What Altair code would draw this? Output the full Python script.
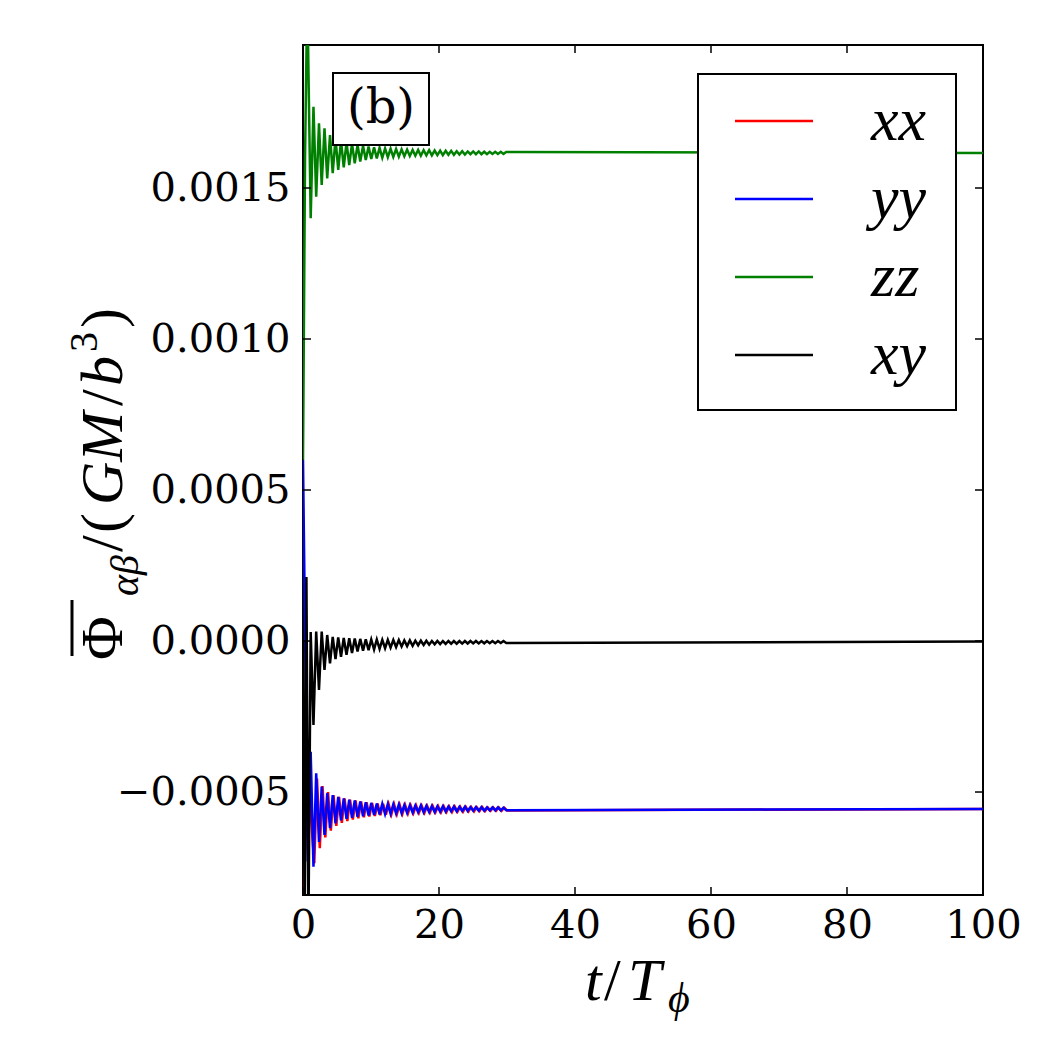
import altair as alt
import pandas as pd

SERIES = ["xx", "yy", "zz", "xy"]
COLORS = ["#ff0000", "#0000ff", "#008000", "#000000"]
X_TICKS = [0, 20, 40, 60, 80, 100]
Y_TICKS = [-0.0005, 0.0, 0.0005, 0.0010, 0.0015]
X_DOMAIN = [0, 100]
Y_DOMAIN = [-0.000841, 0.0019735]

# times of successive extrema (half periods)
T_GRID = [1.13, 1.54, 1.94, 2.35, 2.75, 3.16, 3.56, 3.97, 4.37, 4.78,
          5.18, 5.59, 5.99, 6.40, 6.80, 7.21, 7.61, 8.02, 8.42, 8.83,
          9.23, 9.64, 10.04, 10.45, 10.85, 11.26, 11.66, 12.07, 12.47, 12.88,
          13.28, 13.69, 14.09, 14.50, 14.90, 15.31, 15.71, 16.12, 16.52, 16.93,
          17.33, 17.74, 18.14, 18.55, 18.95, 19.36, 19.76, 20.17, 20.57, 20.98,
          21.38, 21.79, 22.19, 22.60, 23.00, 23.41, 23.81, 24.22, 24.62, 25.03,
          25.43, 25.84, 26.24, 26.65, 27.05, 27.46, 27.86, 28.27, 28.67, 29.08,
          29.48, 29.89]

RED_T = [1.66, 2.06, 2.47, 2.87, 3.28, 3.68, 4.09, 4.49, 4.90, 5.30,
         5.71, 6.11, 6.52, 6.92, 7.33, 7.73, 8.14, 8.54, 8.95, 9.35,
         9.76, 10.16, 10.57, 10.97, 11.38, 11.78, 12.19, 12.59, 13.00, 13.40,
         13.81, 14.21, 14.62, 15.02, 15.43, 15.83, 16.24, 16.64, 17.05, 17.45,
         17.86, 18.26, 18.67, 19.07, 19.48, 19.88, 20.29, 20.69, 21.10, 21.50,
         21.91, 22.31, 22.72, 23.12, 23.53, 23.93, 24.34, 24.74, 25.15, 25.55,
         25.96, 26.36, 26.77, 27.17, 27.58, 27.98, 28.39, 28.79, 29.20, 29.60,
         30.01]

# xx (red)
XX_T = [0.0, 0.60] + RED_T + [100.0]
XX_V = [-0.00095, -0.000405,
        -0.000736, -0.000455, -0.000686, -0.000480, -0.000650, -0.000500, -0.000628, -0.000510, -0.000612, -0.000516,
        -0.000602, -0.000521, -0.000596, -0.000525, -0.000591, -0.000528, -0.000587, -0.000531, -0.000584, -0.000534,
        -0.000581, -0.000536, -0.000579, -0.000538, -0.000577, -0.000539, -0.000575, -0.000540, -0.000574, -0.000541,
        -0.000573, -0.000542, -0.000572, -0.000543, -0.000571, -0.000544, -0.000570, -0.000545, -0.000569, -0.000545,
        -0.000568, -0.000546, -0.000568, -0.000546, -0.000567, -0.000547, -0.000567, -0.000547, -0.000566, -0.000548,
        -0.000566, -0.000548, -0.000565, -0.000549, -0.000565, -0.000549, -0.000564, -0.000550, -0.000564, -0.000550,
        -0.000563, -0.000550, -0.000563, -0.000551, -0.000562, -0.000551, -0.000562, -0.000551, -0.000562, -0.000552,
        -0.000561,
        -0.000556]

# yy (blue)
YY_T = [0.0, 0.70] + T_GRID + [100.0]
YY_V = [0.00060, -0.00073,
        -0.000367, -0.000747, -0.000438, -0.000665, -0.000482, -0.000642, -0.000504, -0.000620, -0.000510, -0.000604,
        -0.000516, -0.000594, -0.000521, -0.000589, -0.000525, -0.000585, -0.000528, -0.000582, -0.000531, -0.000580,
        -0.000534, -0.000578, -0.000536, -0.000576, -0.000538, -0.000574, -0.000539, -0.000573, -0.000540, -0.000572,
        -0.000541, -0.000571, -0.000542, -0.000570, -0.000543, -0.000569, -0.000544, -0.000568, -0.000545, -0.000567,
        -0.000545, -0.000567, -0.000546, -0.000566, -0.000546, -0.000566, -0.000547, -0.000565, -0.000547, -0.000565,
        -0.000548, -0.000564, -0.000548, -0.000564, -0.000549, -0.000563, -0.000549, -0.000563, -0.000550, -0.000562,
        -0.000550, -0.000562, -0.000550, -0.000562, -0.000551, -0.000561, -0.000551, -0.000561, -0.000551, -0.000561,
        -0.000552, -0.000560,
        -0.000556]

# zz (green)
ZZ_T = [0.0, 0.30, 0.63] + T_GRID + [100.0]
ZZ_V = [0.00060, 0.00160, 0.00215,
        0.001400, 0.001769, 0.001471, 0.001714, 0.001510, 0.001698, 0.001532, 0.001675, 0.001549, 0.001664,
        0.001560, 0.001657, 0.001568, 0.001651, 0.001576, 0.001647, 0.001582, 0.001643, 0.001588, 0.001640,
        0.001593, 0.001637, 0.001596, 0.001635, 0.001598, 0.001633, 0.001600, 0.001631, 0.001602, 0.001630,
        0.001603, 0.001629, 0.001604, 0.001628, 0.001605, 0.001627, 0.001606, 0.001626, 0.001607, 0.001626,
        0.001607, 0.001625, 0.001608, 0.001625, 0.001608, 0.001624, 0.001609, 0.001624, 0.001609, 0.001623,
        0.001610, 0.001623, 0.001610, 0.001622, 0.001611, 0.001622, 0.001611, 0.001621, 0.001612, 0.001621,
        0.001612, 0.001621, 0.001612, 0.001620, 0.001612, 0.001620, 0.001613, 0.001620, 0.001613, 0.001620,
        0.001613, 0.001619,
        0.001616]

# xy (black)
XY_T = [0.0, 0.25, 0.50, 0.80] + T_GRID + [100.0]
XY_V = [0.0, -0.00095, 0.000212, -0.00095,
        0.000030, -0.000278, 0.000031, -0.000162, 0.000031, -0.000096, 0.000020, -0.000074, 0.000014, -0.000060,
        0.000012, -0.000052, 0.000010, -0.000046, 0.000009, -0.000040, 0.000008, -0.000035, 0.000007, -0.000032,
        0.000006, -0.000030, 0.000005, -0.000028, 0.000005, -0.000026, 0.000004, -0.000024, 0.000004, -0.000022,
        0.000003, -0.000020, 0.000003, -0.000018, 0.000002, -0.000017, 0.000002, -0.000016, 0.000001, -0.000014,
        0.000001, -0.000013, 0.000001, -0.000012, 0.000000, -0.000011, 0.000000, -0.000010,
        0.000000, -0.0000095, 0.000000, -0.0000090, 0.000000, -0.0000088, 0.000000, -0.0000085, 0.000000, -0.0000082,
        0.000000, -0.0000080, 0.000000, -0.0000078, 0.000000, -0.0000075, 0.000000, -0.0000072, 0.000000, -0.0000070,
        0.000000, -0.0000068, 0.000000, -0.0000065,
        -0.000002]

rows = []
for name, ts, vs in [("xx", XX_T, XX_V), ("yy", YY_T, YY_V), ("zz", ZZ_T, ZZ_V), ("xy", XY_T, XY_V)]:
    for t, v in zip(ts, vs):
        rows.append({"series": name, "t": t, "v": v})
df = pd.DataFrame(rows)

W, H = 680, 850
OX, OY = 303, 45
SERIF = "DejaVu Serif"
MATH = "Liberation Serif"

xscale = alt.Scale(domain=X_DOMAIN, nice=False, zero=False)
yscale = alt.Scale(domain=Y_DOMAIN, nice=False, zero=False)

xaxis = alt.Axis(values=X_TICKS, format="d", title=None, grid=False, ticks=False, domain=False,
                 labelFont=SERIF, labelFontSize=40, labelColor="black", labelPadding=10,
                 labelFlush=False, labelOverlap=False)
yaxis = alt.Axis(values=Y_TICKS, title=None, grid=False, ticks=False, domain=False,
                 labelExpr="datum.value < 0 ? '\u2212' + format(-datum.value, '.4f') : format(datum.value, '.4f')",
                 labelFont=SERIF, labelFontSize=40, labelColor="black", labelPadding=13,
                 labelFlush=False, labelOverlap=False)

legend = alt.Legend(orient="none", legendX=440, legendY=45, title=None, symbolType="M-2,0H2",
                    symbolSize=1521, symbolStrokeWidth=2.5, labelFont=MATH, labelFontStyle="italic",
                    labelFontSize=62, labelColor="black", labelOffset=66, rowPadding=16, padding=0,
                    symbolOffset=0)

color = alt.Color("series:N", scale=alt.Scale(domain=SERIES, range=COLORS), legend=legend)

X_ENC = alt.X("t:Q", scale=xscale, axis=xaxis)
Y_ENC = alt.Y("v:Q", scale=yscale, axis=yaxis)

layers = []
for s in SERIES:
    layers.append(
        alt.Chart(df).transform_filter(alt.datum.series == s)
        .mark_line(clip=True, strokeWidth=2.5)
        .encode(x=X_ENC, y=Y_ENC, color=color)
    )

# inward ticks on all four sides
ydf = pd.DataFrame({"v": Y_TICKS})
xdf = pd.DataFrame({"t": X_TICKS})
tick_style = dict(color="black", strokeWidth=1.5)
layers.append(alt.Chart(ydf).mark_rule(**tick_style).encode(
    y=Y_ENC, x=alt.value(0), x2=alt.value(8)))
layers.append(alt.Chart(ydf).mark_rule(**tick_style).encode(
    y=Y_ENC, x=alt.value(W - 8), x2=alt.value(W)))
layers.append(alt.Chart(xdf).mark_rule(**tick_style).encode(
    x=X_ENC, y=alt.value(H - 8), y2=alt.value(H)))
layers.append(alt.Chart(xdf).mark_rule(**tick_style).encode(
    x=X_ENC, y=alt.value(0), y2=alt.value(8)))

one = alt.Data(values=[{}])

# legend frame (drawn over the lines, entries drawn by the legend itself)
layers.append(alt.Chart(one).mark_rect(fill="white", stroke="black", strokeWidth=2).encode(
    x=alt.value(698 - OX), x2=alt.value(956 - OX), y=alt.value(74 - OY), y2=alt.value(410 - OY)))

# panel label box
layers.append(alt.Chart(one).mark_rect(fill="white", stroke="black", strokeWidth=2).encode(
    x=alt.value(30), x2=alt.value(126), y=alt.value(28), y2=alt.value(100)))
layers.append(alt.Chart(one).mark_text(text="(b)", font=SERIF, fontSize=48, align="center",
                                       baseline="middle", color="black").encode(
    x=alt.value(78), y=alt.value(64)))


def txt(s, x, y, size, font=MATH, style="normal", angle=0):
    return alt.Chart(one).mark_text(text=s, font=font, fontSize=size, fontStyle=style, angle=angle,
                                    align="left", baseline="alphabetic", color="black").encode(
        x=alt.value(x - OX), y=alt.value(y - OY))


# y title: Phi-bar_{alpha beta}/(GM/b^3)
layers += [
    txt("\u03a6", 122, 660, 60, angle=270),
    txt("\u03b1\u03b2", 138, 596, 40, style="italic", angle=270),
    txt("/", 122, 552, 60, angle=270),
    txt("(", 122, 533, 60, angle=270),
    txt("GM", 122, 505, 60, style="italic", angle=270),
    txt("/", 122, 406, 60, angle=270),
    txt("b", 122, 386, 60, style="italic", angle=270),
    txt("3", 97, 352, 40, angle=270),
    txt(")", 122, 328, 60, angle=270),
]
# overline of Phi
layers.append(alt.Chart(one).mark_rule(color="black", strokeWidth=3).encode(
    x=alt.value(72 - OX), y=alt.value(600 - OY), y2=alt.value(656 - OY)))

# x title: t/T_phi
layers += [
    txt("t", 585, 1000, 60, style="italic"),
    txt("/", 604, 1000, 60),
    txt("T", 628, 1000, 60, style="italic"),
    txt("\u03d5", 668, 1012, 42, style="italic"),
]

chart = alt.layer(*layers).properties(
    width=W, height=H,
    autosize=alt.AutoSizeParams(type="none"),
    padding={"left": OX, "top": OY, "right": 1050 - OX - W, "bottom": 1050 - OY - H},
    background="white",
).configure_view(stroke="black", strokeWidth=2)

chart.save("out.html", embed_options={"renderer": "svg", "actions": False})
